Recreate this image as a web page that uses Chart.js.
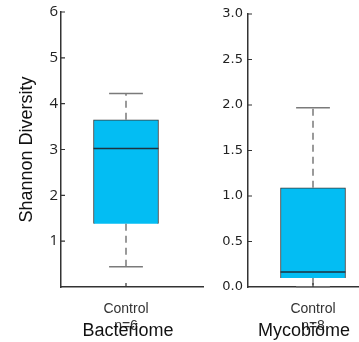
<!DOCTYPE html>
<html>
<head>
<meta charset="utf-8">
<script src="https://cdn.jsdelivr.net/npm/chart.js@4/dist/chart.umd.min.js"></script>
<style>
  html, body { margin: 0; padding: 0; background: #fff; }
  #wrap { position: relative; width: 359px; height: 342px; overflow: hidden; }
  canvas { position: absolute; top: 0; }
  #c1 { left: 0; }
  #c2 { left: 180px; }
  .ptitle { position: absolute; top: 320px; font: 18px "Liberation Sans", Arial, sans-serif; color: #111; transform: translateX(-50%); white-space: nowrap; }
</style>
</head>
<body>
<div id="wrap">
  <canvas id="c1" width="205" height="342"></canvas>
  <canvas id="c2" width="179" height="342"></canvas>
  <div class="ptitle" style="left:128px">Bacteriome</div>
  <div class="ptitle" style="left:304px">Mycobiome</div>
</div>
<script>
// group shown in each panel
const groups = ['Control'];
const bactN = ['n=6'];
const mycoN = ['n=8'];
// min, q1, median, q3, max
const bactStats = [0.44, 1.38, 3.02, 3.65, 4.22];
const mycoStats = [0.0, 0.10, 0.165, 1.09, 1.97];
// y axis ranges
const bactY = [0, 6, 1];
const mycoY = [0, 3, 0.5];

const boxFill = '#03BDF3';
const axisCol = '#333';

// draws whiskers, caps, median and inward ticks from the scales
const boxWhiskers = {
  id: 'boxWhiskers',
  afterDatasetsDraw(chart) {
    const ctx = chart.ctx;
    const xs = chart.scales.x, ys = chart.scales.y;
    chart.data.datasets.forEach((ds, di) => {
      const meta = chart.getDatasetMeta(di);
      ds.stats.forEach((s, i) => {
        const bar = meta.data[i];
        const cx = xs.getPixelForValue(ds.data[i].x);
        const half = bar.width / 2;
        const [mn, q1, md, q3, mx] = s.map(v => ys.getPixelForValue(v));
        ctx.save();
        ctx.strokeStyle = '#7a7a7a';
        ctx.lineWidth = 1.5;
        ctx.setLineDash([7, 5]);
        ctx.beginPath();
        ctx.moveTo(cx, q3); ctx.lineTo(cx, mx);
        ctx.moveTo(cx, q1); ctx.lineTo(cx, mn);
        ctx.stroke();
        ctx.setLineDash([]);
        ctx.beginPath();
        ctx.moveTo(cx - half * 0.52, mx); ctx.lineTo(cx + half * 0.52, mx);
        ctx.moveTo(cx - half * 0.52, mn); ctx.lineTo(cx + half * 0.52, mn);
        ctx.stroke();
        ctx.strokeStyle = '#1d3340';
        ctx.lineWidth = 1.5;
        ctx.beginPath();
        ctx.moveTo(cx - half, md); ctx.lineTo(cx + half, md);
        ctx.stroke();
        ctx.restore();
      });
    });
  },
  afterDraw(chart) {
    const ctx = chart.ctx;
    const xs = chart.scales.x, ys = chart.scales.y;
    const area = chart.chartArea;
    ctx.save();
    ctx.strokeStyle = axisCol;
    ctx.lineWidth = 1.2;
    ctx.beginPath();
    ys.ticks.forEach(t => {
      const y = ys.getPixelForValue(t.value);
      if (t.value === ys.min) return;
      ctx.moveTo(area.left, y); ctx.lineTo(area.left + 4, y);
    });
    xs.ticks.forEach(t => {
      const x = xs.getPixelForValue(t.value);
      ctx.moveTo(x, area.bottom); ctx.lineTo(x, area.bottom - 4);
    });
    ctx.stroke();
    ctx.restore();
  }
};

function makePanel(id, stats, nLab, yr, xMax, yWidth, padTop, tickFont, tickPad, fmt) {
  new Chart(document.getElementById(id), {
    type: 'bar',
    data: {
      datasets: [{
        data: [{ x: 1, y: [stats[1], stats[3]] }],
        stats: [stats],
        backgroundColor: boxFill,
        borderColor: '#3a3a3a',
        borderWidth: 1,
        barThickness: 65
      }]
    },
    options: {
      responsive: false,
      animation: false,
      layout: { padding: { top: padTop, right: id === 'c1' ? 2 : 0 } },
      plugins: { legend: { display: false }, tooltip: { enabled: false } },
      scales: {
        x: {
          type: 'linear',
          offset: false,
          bounds: 'data',
          min: 0,
          max: xMax,
          grid: { display: false, offset: false },
          border: { display: true, color: axisCol, width: 1.5 },
          afterBuildTicks: s => { s.ticks = [{ value: 1 }]; },
          afterFit: s => { s.height = 55; s.paddingLeft = 0; s.paddingRight = 0; },
          ticks: {
            padding: 6,
            color: '#333',
            font: { family: '"Liberation Sans", Arial, sans-serif', size: 14 },
            callback: () => [groups[0], nLab[0]]
          }
        },
        y: {
          min: yr[0],
          max: yr[1],
          grid: { display: false, drawTicks: false },
          border: { display: true, color: axisCol, width: 1.5 },
          afterFit: s => { s.width = yWidth; },
          ticks: {
            stepSize: yr[2],
            padding: tickPad,
            color: '#222',
            font: tickFont,
            callback: fmt
          },
          title: id === 'c1' ? {
            display: true,
            text: 'Shannon Diversity',
            color: '#111',
            font: { family: '"Liberation Sans", Arial, sans-serif', size: 18 },
            padding: { top: 16, bottom: 0 }
          } : { display: false }
        }
      }
    },
    plugins: [boxWhiskers]
  });
}

makePanel('c1', bactStats, bactN, bactY, 142 / 65, 61, 10,
  { family: '"Open Sans", sans-serif', size: 15 }, 3,
  v => v === 0 ? '' : String(v));
makePanel('c2', mycoStats, mycoN, mycoY, 111 / 65, 68, 14,
  { family: '"DejaVu Sans", sans-serif', size: 13 }, 5,
  v => v.toFixed(1));
</script>
</body>
</html>
